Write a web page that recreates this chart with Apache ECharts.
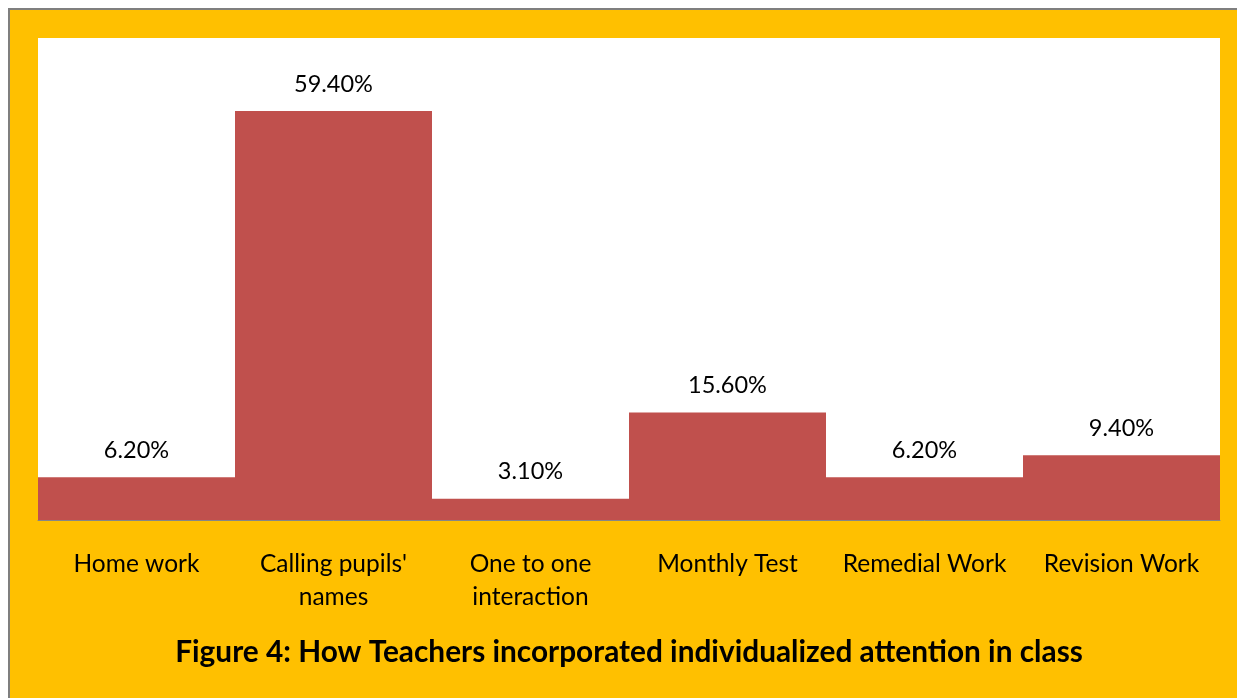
<!DOCTYPE html>
<html>
<head>
<meta charset="utf-8">
<script src="https://cdn.jsdelivr.net/npm/echarts@6/dist/echarts.min.js"></script>
<style>
html,body{margin:0;padding:0;background:#fff;}
#chart{width:1237px;height:698px;}
</style>
</head>
<body>
<div id="chart"></div>
<script>
const categories = ["Home work", "Calling pupils'\nnames", "One to one\ninteraction", "Monthly Test", "Remedial Work", "Revision Work"];
const values = [6.2, 59.4, 3.1, 15.6, 6.2, 9.4];
const titleText = "Figure 4: How Teachers incorporated individualized attention in class";

const chart = echarts.init(document.getElementById('chart'));
chart.setOption({
  backgroundColor: '#ffffff',
  animation: false,
  graphic: [{
    type: 'rect',
    z: -10,
    shape: {x: 9, y: 9, width: 1240, height: 700},
    style: {fill: '#FFC000', stroke: '#7F7F7F', lineWidth: 2}
  }],
  title: {
    text: titleText,
    left: 624,
    top: 632,
    textAlign: 'center',
    textStyle: {fontFamily: 'Lato', fontWeight: 'bold', fontSize: 29.8, color: '#000'}
  },
  grid: {
    left: 38, top: 38, width: 1182, height: 482,
    show: true, backgroundColor: '#ffffff', borderWidth: 0
  },
  xAxis: {
    type: 'category',
    data: categories,
    axisLine: {show: true, lineStyle: {color: '#868686', width: 1}},
    axisTick: {show: false},
    axisLabel: {
      interval: 0, margin: 28, fontFamily: 'Lato', fontSize: 24.5, color: '#000', lineHeight: 33
    }
  },
  yAxis: {
    type: 'value', min: 0, max: 70, show: false,
    splitLine: {show: false}
  },
  series: [{
    type: 'bar',
    data: values,
    barCategoryGap: 0,
    itemStyle: {color: '#C0504D'},
    label: {
      show: true, position: 'top', distance: 15,
      fontFamily: 'Lato', fontSize: 23.5, color: '#000',
      formatter: p => p.value.toFixed(2) + '%'
    }
  }]
});
</script>
</body>
</html>
